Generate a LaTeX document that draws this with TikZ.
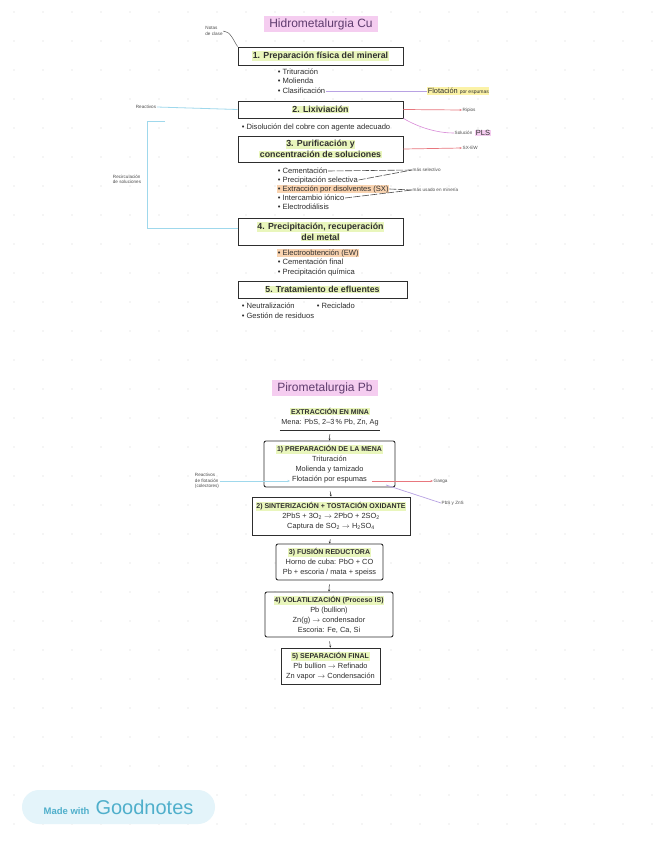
\documentclass[tikz,border=0pt]{standalone}
\usepackage{fontspec}
\setmainfont{Liberation Sans}
\usepackage{xcolor}
\usepackage{tikz}
\usetikzlibrary{arrows.meta, positioning, calc}
\definecolor{ink}{HTML}{2E2E2E}
\definecolor{titlecol}{HTML}{5E3C6E}
\definecolor{hlgreen}{HTML}{E9F6BC}
\definecolor{hlyellow}{HTML}{FBF2A6}
\definecolor{hlpink}{HTML}{F5CDF0}
\definecolor{hlorange}{HTML}{F9D3B0}
\definecolor{redln}{HTML}{E8777E}
\definecolor{pinkln}{HTML}{D98AD8}
\definecolor{purpleln}{HTML}{B8A2E3}
\definecolor{blueln}{HTML}{9FD8EC}
\definecolor{dotcol}{HTML}{D4D4D4}
\definecolor{badgebg}{HTML}{E4F4FA}
\definecolor{badgetx}{HTML}{4FAFCB}
\newcommand{\hlg}[1]{{\setlength{\fboxsep}{0.7pt}\colorbox{hlgreen}{#1}}}
\newcommand{\pttl}{\fontsize{7}{10}\selectfont\bfseries}

\begin{document}
\begin{tikzpicture}[x=1pt, y=-1pt,
  stage/.style={draw=ink, line width=0.9pt, fill=white, minimum width=165pt,
                font=\fontsize{8.8}{11}\selectfont\bfseries, text=ink, align=center, inner sep=1pt},
  pstage/.style={draw=ink, line width=0.9pt, fill=white, rounded corners=2pt,
                 font=\fontsize{7.4}{10}\selectfont, text=ink, align=center, inner sep=1pt},
  pbody/.style={font=\fontsize{7.3}{10}\selectfont, text=ink, align=center, inner sep=1pt},
  bul/.style={anchor=west, font=\fontsize{7.6}{8}\selectfont, text=ink, inner sep=0.6pt},
  tiny/.style={font=\fontsize{4.6}{5.2}\selectfont, text=ink!85, align=left, inner sep=0.5pt},
  ttl/.style={font=\fontsize{12}{13}\selectfont, text=titlecol, fill=hlpink, inner xsep=5pt, inner ysep=2pt},
  redarr/.style={draw=redln, line width=0.7pt, -{Stealth[length=2.5pt, width=2pt]}},
  bluearr/.style={draw=blueln, line width=0.7pt, -{Stealth[length=2.5pt, width=2pt]}},
  blueln/.style={draw=blueln, line width=0.8pt},
  pinkln/.style={draw=pinkln, line width=0.6pt},
  purpleln/.style={draw=purpleln, line width=0.7pt},
  dashln/.style={draw=ink!85, line width=0.6pt, dash pattern=on 7pt off 1.5pt},
  notelink/.style={draw=ink!80, line width=0.5pt},
  steparr/.style={draw=ink, line width=0.5pt, -{Stealth[length=2pt, width=2pt]}, shorten <=4pt}
]
  \useasboundingbox (0,0) rectangle (656,848);
  \fill[white] (0,0) rectangle (656,848);

  % dot grid of the page
  \foreach \i in {0,...,22}
    \foreach \j in {0,...,29}
      \fill[dotcol] ({14+29*\i},{12+29*\j}) circle (0.7);

  % ---------- Hidrometalurgia ----------
  \node[ttl] (hidro) at (321,24) {Hidrometalurgia Cu};
  \node[tiny] (nota) at (214,31) {Notas\\de clase};

  \node[stage, minimum height=18pt] (prep) at (320.5,56) {\hlg{1. Preparación física del mineral}};
  \draw[notelink] (nota.east) .. controls ($(nota.east)+(7,0)$) and ($(prep.north west)+(-4,-6)$) .. (prep.north west);

  \node[bul] (tritu) at (277,72) {• Trituración};
  \node[bul] (moli) at (277,81) {• Molienda};
  \node[bul] (clasif) at (277,91) {• Clasificación};
  \node[bul, fill=hlyellow] (flot) at (427,91) {\fontsize{7.4}{8}\selectfont Flotación {\fontsize{5}{6}\selectfont por espumas}};
  \draw[purpleln] (clasif.east) -- (flot.west);

  \node[stage, minimum height=17pt] (lix) at (320.5,109.5) {\hlg{2. Lixiviación}};
  \node[bul] (uso) at (241,127) {• Disolución del cobre con agente adecuado};

  \node[stage, minimum height=26pt] (purif) at (320.5,149) {\hlg{3. Purificación y}\\\hlg{concentración de soluciones}};

  % left side of stage 2
  \node[tiny] (reac) at (146,107) {Reactivos};
  \draw[blueln] (reac.east) -- (lix.west);

  % right side of stages 2 and 3
  \node[tiny, anchor=west] (ripios) at (462,110) {Ripios};
  \draw[redarr] (lix.east) -- (ripios.west);
  \node[tiny, anchor=west] (solu) at (454,133) {Solución};
  \node[bul, fill=hlpink, font=\fontsize{7.5}{8}\selectfont, right=2pt of solu] (pls) {PLS};
  \draw[pinkln] (lix.south east) .. controls (418,127) and (436,133) .. (solu.west);
  \node[tiny, anchor=west] (sxew) at (462,148) {SX-EW};
  \draw[redarr] (purif.east) -- (sxew.west);

  \node[bul] (cem) at (277,171) {• Cementación};
  \node[bul] (psel) at (277,180) {• Precipitación selectiva};
  \node[bul, fill=hlorange] (sx) at (277,189) {• Extracción por disolventes (SX)};
  \node[bul] (ii) at (277,198) {• Intercambio iónico};
  \node[bul] (ed) at (277,207) {• Electrodiálisis};
  \node[tiny, anchor=west] (selec) at (412,170) {más selectivo};
  \node[tiny, anchor=west] (usado) at (412,190) {más usado en minería};
  \draw[dashln] (cem.east) -- (selec.west);
  \draw[dashln] (psel.east) -- (selec.west);
  \draw[dashln] (sx.east) -- (usado.west);
  \draw[dashln] (ii.east) -- (usado.west);

  \node[stage, minimum height=27pt] (precip) at (320.5,231.5) {\hlg{4. Precipitación, recuperación}\\\hlg{del metal}};

  % recirculation bracket
  \coordinate (cicloTop) at (165,121);
  \coordinate (ciclo1) at (147,121);
  \coordinate (ciclo2) at (147,228);
  \draw[blueln] (cicloTop) -- (ciclo1) -- (ciclo2) -- (ciclo2 -| precip.west);
  \node[tiny] (ciclo) at (127,179) {Recirculación\\de soluciones};

  \node[bul, fill=hlorange] (ew) at (277,253) {• Electroobtención (EW)};
  \node[bul] (cemf) at (277,262) {• Cementación final};
  \node[bul] (pq) at (277,272) {• Precipitación química};

  \node[stage, minimum width=169pt, minimum height=17pt] (eflu) at (322.5,289.5) {\hlg{5. Tratamiento de efluentes}};

  \node[bul] (neut) at (241,306) {• Neutralización};
  \node[bul] (recic) at (316,306) {• Reciclado};
  \node[bul] (gest) at (241,316) {• Gestión de residuos};

  % ---------- Pirometalurgia ----------
  \node[ttl] (piro) at (325,388) {Pirometalurgia Pb};

  \node[pbody, minimum width=100pt, minimum height=26pt] (mina) at (330,417)
    {\hlg{\pttl EXTRACCIÓN EN MINA}\\Mena: PbS, 2–3\,\% Pb, Zn, Ag};
  \draw[draw=ink, line width=0.9pt] (mina.south west) -- (mina.south east);

  \node[pstage, minimum width=131pt, minimum height=46pt] (prepmena) at (329.5,464)
    {\hlg{\pttl 1) PREPARACIÓN DE LA MENA}\\Trituración\\Molienda y tamizado\\Flotación por espumas};
  \coordinate (flotL) at (290,481);
  \coordinate (flotR) at (372,481);
  \coordinate (flotR2) at (386,485);
  \node[tiny] (reacpb) at (207,481) {Reactivos\\de flotación\\(colectores)};
  \draw[bluearr] (reacpb.east) -- (flotL);
  \node[tiny, anchor=west] (ganga) at (433,481) {Ganga};
  \draw[redarr] (flotR) -- (ganga.west);
  \node[tiny, anchor=west] (conc) at (441,503) {PbS y ZnS};
  \draw[purpleln] (flotR2) -- (conc.west);

  \node[pstage, rounded corners=0pt, minimum width=158pt, minimum height=38pt] (sint) at (331,516)
    {\hlg{\pttl 2) SINTERIZACIÓN + TOSTACIÓN OXIDANTE}\\2PbS + 3O\textsubscript{2} $\to$ 2PbO + 2SO\textsubscript{2}\\Captura de SO\textsubscript{2} $\to$ H\textsubscript{2}SO\textsubscript{4}};

  \node[pstage, minimum width=107pt, minimum height=36pt] (fusion) at (329.5,562)
    {\hlg{\pttl 3) FUSIÓN REDUCTORA}\\Horno de cuba: PbO + CO\\Pb + escoria / mata + speiss};

  \node[pstage, minimum width=128pt, minimum height=45pt] (volat) at (329,614.5)
    {\hlg{\pttl 4) VOLATILIZACIÓN (Proceso IS)}\\Pb (bullion)\\Zn(g) $\to$ condensador\\Escoria: Fe, Ca, Si};

  \node[pstage, rounded corners=0pt, minimum width=99pt, minimum height=36pt] (separ) at (330.5,666)
    {\hlg{\pttl 5) SEPARACIÓN FINAL}\\Pb bullion $\to$ Refinado\\Zn vapor $\to$ Condensación};

  \draw[steparr] (mina.south) -- (prepmena.north);
  \draw[steparr] (prepmena.south) -- (sint.north);
  \draw[steparr] (sint.south) -- (fusion.north);
  \draw[steparr] (fusion.south) -- (volat.north);
  \draw[steparr] (volat.south) -- (separ.north);

  % badge
  \node[fill=badgebg, rounded corners=17pt, minimum width=193pt, minimum height=34pt, text=badgetx]
    (badge) at (118.5,807) {{\fontsize{9.5}{10}\selectfont\bfseries Made with}\hspace{6pt}{\fontsize{20}{22}\selectfont Goodnotes}};
\end{tikzpicture}
\end{document}
